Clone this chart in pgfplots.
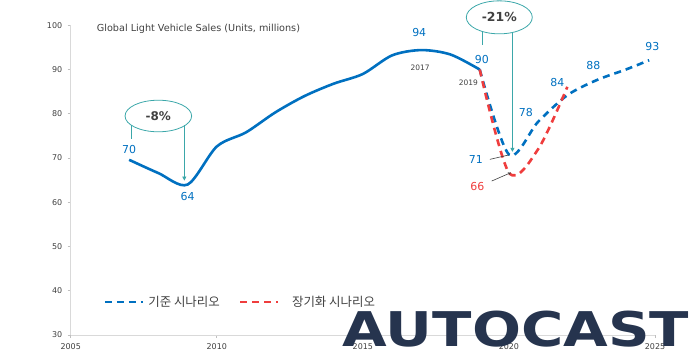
\documentclass[border=0pt]{standalone}
\usepackage{pgfplots}
\pgfplotsset{compat=1.18}
\usepackage{fontspec}
\setmainfont{DejaVu Sans}
\newfontfamily\kr{Noto Sans CJK KR}
\usetikzlibrary{arrows.meta}
\definecolor{lblue}{HTML}{0070C0}
\definecolor{lred}{HTML}{EF3D3D}
\definecolor{teal2}{HTML}{3BA7A9}
\definecolor{tickc}{HTML}{404040}
\definecolor{navy}{HTML}{26344E}
\begin{document}
\begin{tikzpicture}
\useasboundingbox (-70.7bp,-25bp) rectangle (629.3bp,335bp);
\begin{axis}[
 scale only axis, width=584.3bp, height=309.7bp,
 xmin=2005, xmax=2025, ymin=30, ymax=100,
 axis x line*=bottom, axis y line*=left,
 axis line style={draw=black!15, line width=1bp, -},
 xtick={2005,2010,2015,2020,2025}, ytick={30,40,50,60,70,80,90,100},
 tick style={draw=black!25, line width=0.6bp},
 major tick length=3bp, tick align=outside,
 xticklabel style={font=\fontsize{8}{9}\selectfont, text=tickc, yshift=-2bp},
 yticklabel style={font=\fontsize{8}{9}\selectfont, text=tickc, xshift=-2bp},
 /pgf/number format/assume math mode=true,
 /pgf/number format/1000 sep={},
 clip=false,
]
\addplot[lblue, line width=2.6bp, smooth] coordinates {
 (2007,69.6) (2008,66.6) (2009,64.0) (2010,72.6) (2011,75.8) (2012,80.3)
 (2013,84.0) (2014,86.8) (2015,89.0) (2016,93.2) (2017,94.4) (2018,93.4) (2019,90.0)};
\addplot[lblue, line width=2.6bp, dash pattern=on 7bp off 5bp, smooth] coordinates {
 (2019,90.0) (2020,70.8) (2021,78.2) (2022,84.2) (2023,87.6) (2024,90.0) (2024.8,92.1)};
\addplot[lred, line width=2.6bp, dash pattern=on 7bp off 5bp, smooth] coordinates {
 (2019,90.0) (2020,66.7) (2021,72.0) (2022,86.1)};

% annotations
\draw[teal2, line width=0.8bp] (axis cs:2008.0,79.5) ellipse [x radius=33.3bp, y radius=15.8bp];
\node[font=\fontsize{12}{14}\selectfont\bfseries, text=tickc] at (axis cs:2008.0,79.5) {-8\%};
\draw[teal2, line width=0.8bp] (axis cs:2007.09,77.4) -- (axis cs:2007.09,74.2);
\draw[teal2, line width=0.8bp, -{Triangle[length=4bp,width=4bp]}] (axis cs:2008.89,77.4) -- (axis cs:2008.89,64.9);

\draw[teal2, line width=0.8bp] (axis cs:2019.67,101.8) ellipse [x radius=33bp, y radius=16.5bp];
\node[font=\fontsize{12.5}{14}\selectfont\bfseries, text=tickc] at (axis cs:2019.67,101.8) {-21\%};
\draw[teal2, line width=0.8bp] (axis cs:2019.1,98.6) -- (axis cs:2019.1,95.5);
\draw[teal2, line width=0.8bp, -{Triangle[length=4bp,width=4bp]}] (axis cs:2020.12,98.4) -- (axis cs:2020.12,71.4);

\tikzset{lab/.style={font=\fontsize{11}{13}\selectfont, text=lblue}}
\node[lab] at (axis cs:2007.0,72.0) {70};
\node[lab] at (axis cs:2009.0,61.3) {64};
\node[lab] at (axis cs:2016.93,98.3) {94};
\node[lab] at (axis cs:2019.07,92.3) {90};
\node[lab] at (axis cs:2018.87,69.7) {71};
\node[lab, text=lred] at (axis cs:2018.92,63.5) {66};
\node[lab] at (axis cs:2020.58,80.3) {78};
\node[lab] at (axis cs:2021.66,87.1) {84};
\node[lab] at (axis cs:2022.89,91.0) {88};
\node[lab] at (axis cs:2024.91,95.3) {93};
\node[font=\fontsize{7.5}{9}\selectfont, text=tickc] at (axis cs:2016.96,90.4) {2017};
\node[font=\fontsize{7.5}{9}\selectfont, text=tickc] at (axis cs:2018.61,87.1) {2019};
\draw[tickc, line width=0.6bp] (axis cs:2019.35,69.7) -- (axis cs:2020.0,70.7);
\draw[tickc, line width=0.6bp, -{Stealth[length=3bp,width=3bp]}] (axis cs:2019.41,64.8) -- (axis cs:2020.07,66.7);

\node[anchor=west, font=\fontsize{9.7}{11}\selectfont, text=tickc, inner sep=0] at (axis cs:2005.89,99.1) {Global Light Vehicle Sales (Units, millions)};

% legend
\draw[lblue, line width=2.6bp, dash pattern=on 7bp off 5bp] (axis cs:2006.17,37.5) -- (axis cs:2007.49,37.5);
\node[anchor=west, inner sep=0, font=\kr\fontsize{12.5}{14}\selectfont, text=tickc] at (axis cs:2007.65,37.5) {기준 시나리오};
\draw[lred, line width=2.6bp, dash pattern=on 7bp off 5bp] (axis cs:2010.80,37.5) -- (axis cs:2012.11,37.5);
\node[anchor=west, inner sep=0, font=\kr\fontsize{12.5}{14}\selectfont, text=tickc] at (axis cs:2012.57,37.5) {장기화 시나리오};
\end{axis}
\node[text=navy, inner sep=0] at (445.3bp,5.8bp) {\resizebox{346bp}{35.5bp}{\bfseries AUTOCAST}};
\end{tikzpicture}
\end{document}
